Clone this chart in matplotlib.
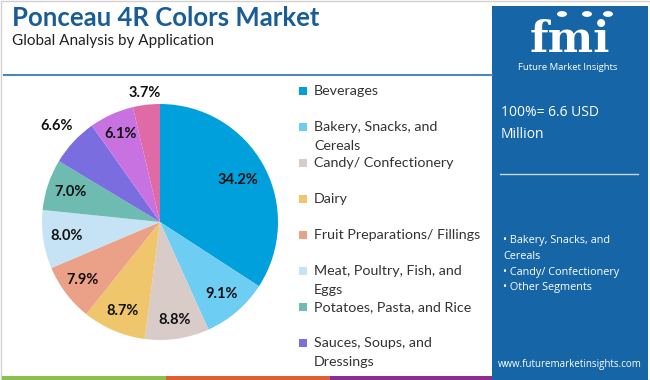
import numpy as np
import matplotlib
matplotlib.use('Agg')
import matplotlib.pyplot as plt
from matplotlib.patches import Rectangle, Circle

# data
segments = ['Beverages', 'Bakery, Snacks, and\nCereals', 'Candy/ Confectionery', 'Dairy',
            'Fruit Preparations/ Fillings', 'Meat, Poultry, Fish, and\nEggs',
            'Potatoes, Pasta, and Rice', 'Sauces, Soups, and\nDressings', 'Others 1', 'Others 2']
shares = [34.2, 9.1, 8.8, 8.7, 7.9, 8.0, 7.0, 6.6, 6.1, 3.7]
colors = ['#00a0dc', '#6dcdf3', '#d8cbc8', '#efc66c', '#eba187', '#c6e3f5',
          '#6dbbb1', '#7a6de0', '#c872e2', '#e06aa6']
label_dist = [0.75, 0.8, 0.84, 0.82, 0.82, 0.8, 0.8, 1.19, 0.82, 1.1]
n_legend = 8
panel_bullets = ['• Bakery, Snacks, and', 'Cereals', '• Candy/ Confectionery', '• Other Segments']

W, H = 650, 380
fig = plt.figure(figsize=(6.5, 3.8), dpi=100)

def fx(x):
    return x / W

def fy(y):
    return 1 - y / H

# outer frame
fig.patches.append(Rectangle((0.5 / W, 0.5 / H), 1 - 1 / W, 1 - 1 / H, transform=fig.transFigure,
                             fill=False, edgecolor='#d0d0d0', lw=1))

# title
fig.text(fx(12), fy(18), 'Ponceau 4R Colors Market', fontsize=18.5, fontweight='bold',
         color='#1a5c98', va='center', ha='left', family='Lato')
fig.text(fx(12), fy(41), 'Global Analysis by Application', fontsize=11, color='#222222',
         va='center', ha='left', family='Lato')
fig.lines.append(plt.Line2D([fx(4), fx(492)], [fy(75), fy(75)], transform=fig.transFigure,
                            color='#4f88b8', lw=1.5))

# bottom strips
for x0, c in [(2, '#8bbf4f'), (166, '#dd5f35'), (330, '#8a2f8f')]:
    fig.patches.append(Rectangle((fx(x0), 0), 164 / W, 4 / H, transform=fig.transFigure,
                                 color=c, lw=0))

# right panel
panel = '#1565a7'
fig.patches.append(Rectangle((fx(492), 0), 156 / W, 374 / H, transform=fig.transFigure,
                             color=panel, lw=0))
fig.text(fx(570), fy(52), 'fmi', fontsize=31, fontweight='bold', color='white', ha='center',
         va='baseline', family='DejaVu Serif')
for yy in np.arange(24, 54, 4):
    fig.lines.append(plt.Line2D([fx(510), fx(630)], [fy(yy), fy(yy)], transform=fig.transFigure,
                                color=panel, lw=0.8))
for cx in [562, 587, 608]:
    fig.patches.append(Circle((fx(cx), fy(14)), 5 / W, transform=fig.transFigure,
                              color='white', lw=0))
fig.text(fx(568), fy(67), 'Future Market Insights', fontsize=6.8, color='white', ha='center',
         va='center', family='Open Sans')
fig.text(fx(501), fy(113), '100%= 6.6 USD', fontsize=10, color='white', ha='left',
         va='center', family='Open Sans')
fig.text(fx(501), fy(134), 'Million', fontsize=10, color='white', ha='left',
         va='center', family='Open Sans')
fig.lines.append(plt.Line2D([fx(500), fx(638)], [fy(174), fy(174)], transform=fig.transFigure,
                            color='#c8d8ea', lw=1))
by = 241
for b in panel_bullets:
    fig.text(fx(503), fy(by), b, fontsize=7.8, color='white', ha='left', va='center',
             family='Open Sans')
    by += 15.5
fig.text(fx(570), fy(364), 'www.futuremarketinsights.com', fontsize=7, color='white',
         ha='center', va='center', family='Open Sans')

# pie
cx, cy, r = 160, 222, 118
k = 1.3
ax = fig.add_axes([fx(cx - r * k), fy(cy + r * k), 2 * r * k / W, 2 * r * k / H])
wedges, _ = ax.pie(shares, colors=colors, startangle=90, counterclock=False, radius=1,
                   wedgeprops=dict(lw=0))
ax.set_xlim(-k, k)
ax.set_ylim(-k, k)
ax.set_aspect('equal')
ax.axis('off')
for w, v, d in zip(wedges, shares, label_dist):
    a = np.deg2rad((w.theta1 + w.theta2) / 2)
    ax.text(d * np.cos(a), d * np.sin(a), f'{v:.1f}%', ha='center', va='center',
            fontsize=10.5, fontweight='bold', color='#111111', family='Lato')

# legend
ly = 91
for name, c in zip(segments[:n_legend], colors):
    fig.patches.append(Rectangle((fx(299), fy(ly + 4)), 8 / W, 8 / H, transform=fig.transFigure,
                                 color=c, lw=0))
    lines = name.split('\n')
    fig.text(fx(314), fy(ly), lines[0], fontsize=10.3, color='#333333', ha='left', va='center',
             family='Lato')
    if len(lines) > 1:
        fig.text(fx(314), fy(ly + 19), lines[1], fontsize=10.3, color='#333333', ha='left',
                 va='center', family='Lato')
    ly += 36

fig.savefig('out.png', dpi=100)
